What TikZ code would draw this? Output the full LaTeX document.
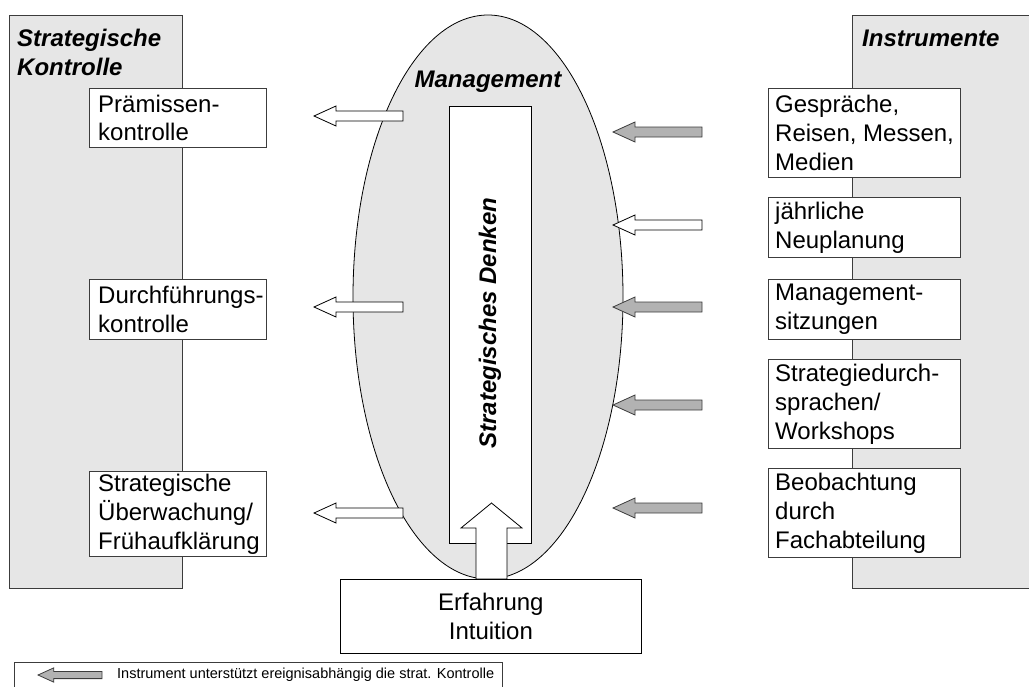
\documentclass[tikz,border=0pt]{standalone}
\usepackage{fontspec}
\setmainfont{Liberation Sans}
\definecolor{panelgray}{HTML}{E6E6E6}
\definecolor{arrowgray}{HTML}{B2B2B2}
\definecolor{edge}{HTML}{3C3C3C}
\begin{document}
\begin{tikzpicture}[x=1pt,y=-1pt,
  panel/.style={draw=edge, fill=panelgray, line width=1pt},
  itembox/.style={draw=edge, fill=white, line width=1pt, anchor=north west, inner sep=0pt},
  itemtext/.style={anchor=west, inner sep=0pt, align=left,
    font=\fontsize{24}{28.8}\selectfont},
  heading/.style={inner sep=0pt, align=left,
    font=\fontsize{24}{28.8}\selectfont\bfseries\itshape},
  blockleft/.pic={\path[pic actions] (0,0) -- (22,-10) -- (22,-5) -- (89,-5)
    -- (89,5) -- (22,5) -- (22,10) -- cycle;},
  hollow/.style={draw=black, fill=white, line width=0.8pt},
  solid/.style={draw=edge, fill=arrowgray, line width=0.8pt}
]
\useasboundingbox (0,0) rectangle (1029,686);

% side panels
\path[panel] (9,15) rectangle (182,588);
\path[panel] (852,15) rectangle (1040,588);
\node[heading, anchor=west] (kontrolle) at (17,52.5) {Strategische\\Kontrolle};
\node[heading, anchor=west] (instrumente) at (862,38) {Instrumente};

% management ellipse with the thinking column
\draw[fill=panelgray, line width=0.8pt] (488,297) ellipse [x radius=135, y radius=282];
\node[heading, anchor=center] (management) at (488,82) {Management};
\node[draw=black, fill=white, line width=0.8pt, minimum width=82pt,
  minimum height=437pt, inner sep=0pt] (denken) at (490,324.5) {};
\node[heading, rotate=90] (denkentext) at (490,323) {Strategisches Denken};

% experience feeding upward
\draw[hollow] (491.5,503) -- (522,528) -- (507,528) -- (507,579) -- (476,579)
  -- (476,528) -- (461,528) -- cycle;
\node[draw=black, fill=white, line width=0.8pt, anchor=north west,
  minimum width=301pt, minimum height=74pt, inner sep=0pt, align=center,
  font=\fontsize{24}{28.8}\selectfont] (erfahrung) at (340,579) {Erfahrung\\Intuition};

% control types
\node[itembox, minimum width=177pt, minimum height=59pt] (praemisse) at (89,88) {};
\node[itemtext] (praemisseT) at ([xshift=9pt]praemisse.west) {Prämissen-\\kontrolle};
\node[itembox, minimum width=177pt, minimum height=60pt] (durchf) at (89,279) {};
\node[itemtext] (durchfT) at ([xshift=9pt]durchf.west) {Durchführungs-\\kontrolle};
\node[itembox, minimum width=177pt, minimum height=85pt] (ueberw) at (89,471) {};
\node[itemtext] (ueberwT) at ([xshift=9pt]ueberw.west) {Strategische\\Überwachung/\\Frühaufklärung};

% instruments
\node[itembox, minimum width=192pt, minimum height=89pt] (gespraeche) at (768,88) {};
\node[itemtext] (gespraecheT) at ([xshift=7pt]gespraeche.west) {Gespräche,\\Reisen, Messen,\\Medien};
\node[itembox, minimum width=192pt, minimum height=60pt] (neuplanung) at (768,197) {};
\node[itemtext] (neuplanungT) at ([xshift=7pt]neuplanung.west) {jährliche\\Neuplanung};
\node[itembox, minimum width=192pt, minimum height=60pt] (sitzungen) at (768,279) {};
\node[itemtext] (sitzungenT) at ([xshift=7pt]sitzungen.west) {Management-\\sitzungen};
\node[itembox, minimum width=192pt, minimum height=89pt] (workshops) at (768,359) {};
\node[itemtext] (workshopsT) at ([xshift=7pt]workshops.west) {Strategiedurch-\\sprachen/\\Workshops};
\node[itembox, minimum width=192pt, minimum height=89pt] (beobachtung) at (768,468) {};
\node[itemtext] (beobachtungT) at ([xshift=7pt]beobachtung.west) {Beobachtung\\durch\\Fachabteilung};

% arrows towards the controls
\pic[hollow] at (314,116) {blockleft};
\pic[hollow] at (314,307) {blockleft};
\pic[hollow] at (314,513) {blockleft};

% arrows from the instruments
\pic[solid] at (613,132) {blockleft};
\pic[hollow] at (613,225) {blockleft};
\pic[solid] at (613,307) {blockleft};
\pic[solid] at (613,405) {blockleft};
\pic[solid] at (613,508) {blockleft};

% legend
\draw[draw=edge, line width=1pt] (14,662) rectangle (502,700);
\pic[solid, scale=0.72] at (38,675) {blockleft};
\node[anchor=west, inner sep=0pt, font=\fontsize{14.5}{17}\selectfont] (legende) at (117,675)
  {Instrument unterstützt ereignisabhängig die strat. Kontrolle};
\end{tikzpicture}
\end{document}
